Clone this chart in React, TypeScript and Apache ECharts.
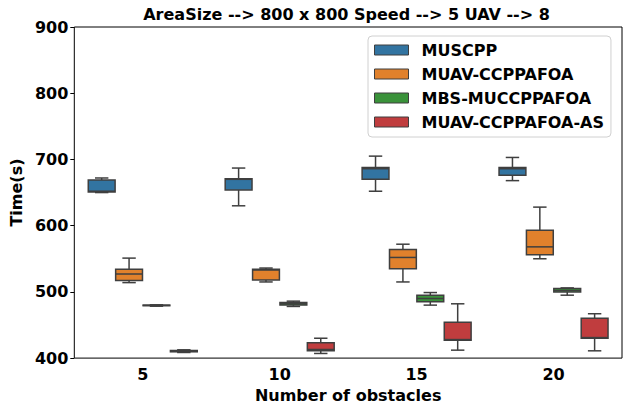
import React, { useEffect, useRef } from "react";
import * as echarts from "echarts";

const categories = ["5", "10", "15", "20"];
const seriesNames = ["MUSCPP", "MUAV-CCPPAFOA", "MBS-MUCCPPAFOA", "MUAV-CCPPAFOA-AS"];
const seriesColors = ["#3274a1", "#e1812c", "#3a923a", "#c03d3e"];
// [min, q1, median, q3, max] per category
const muscpp = [
  [650, 651, 652, 669, 672],
  [630, 654, 670, 671, 687],
  [652, 670, 686, 688, 705],
  [668, 676, 686, 688, 703],
];
const muavCcppafoa = [
  [514, 517, 527, 534, 551],
  [515, 518, 533, 534, 536],
  [515, 535, 552, 564, 572],
  [550, 556, 568, 593, 628],
];
const mbsMuccppafoa = [
  [478.4, 479.2, 479.6, 480, 480.4],
  [478, 480, 482, 484, 486],
  [480, 485, 490, 495, 499],
  [495, 500, 502, 505, 506],
];
const muavCcppafoaAs = [
  [408.5, 409.5, 410.5, 411.5, 412.5],
  [407, 411, 413, 423, 430],
  [412, 427, 428, 454, 482],
  [411, 430, 431, 460, 467],
];
const yTicks = { min: 400, max: 900, interval: 100 };

const allSeries = [muscpp, muavCcppafoa, mbsMuccppafoa, muavCcppafoaAs];
const FONT = "DejaVu Sans";
const EDGE = "#3f3f3f";

export default function App() {
  const ref = useRef<HTMLDivElement>(null);
  useEffect(() => {
    if (!ref.current) return;
    const chart = echarts.init(ref.current, null, { renderer: "svg" });
    const nSeries = allSeries.length;
    const series = allSeries.map((vals, s) => ({
      name: seriesNames[s],
      type: "custom",
      itemStyle: { color: seriesColors[s] },
      encode: { x: 0, y: [1, 2, 3, 4, 5] },
      data: vals.map((v, i) => [i, ...v]),
      renderItem: (params: any, api: any) => {
        const idx = api.value(0);
        const mn = api.value(1), q1 = api.value(2), md = api.value(3), q3 = api.value(4), mx = api.value(5);
        const band = api.size([1, 0])[0];
        const base = api.coord([idx, mn]);
        const slot = (0.8 / nSeries) * band;
        const cx = base[0] + (-0.4 + slot / band * (s + 0.5)) * band;
        const w = slot * 0.98;
        const y = (v: number) => api.coord([idx, v])[1];
        const ls = { stroke: EDGE, lineWidth: 1.5 };
        return {
          type: "group",
          children: [
            { type: "line", shape: { x1: cx, y1: y(mn), x2: cx, y2: y(q1) }, style: ls },
            { type: "line", shape: { x1: cx, y1: y(q3), x2: cx, y2: y(mx) }, style: ls },
            { type: "line", shape: { x1: cx - w / 4, y1: y(mn), x2: cx + w / 4, y2: y(mn) }, style: ls },
            { type: "line", shape: { x1: cx - w / 4, y1: y(mx), x2: cx + w / 4, y2: y(mx) }, style: ls },
            {
              type: "rect",
              shape: { x: cx - w / 2, y: y(q3), width: w, height: Math.max(y(q1) - y(q3), 0.5) },
              style: { fill: seriesColors[s], stroke: EDGE, lineWidth: 1.5 },
            },
            { type: "line", shape: { x1: cx - w / 2, y1: y(md), x2: cx + w / 2, y2: y(md) }, style: ls },
          ],
        };
      },
    }));

    chart.setOption({
      animation: false,
      textStyle: { fontFamily: FONT },
      title: {
        text: "AreaSize --> 800 x 800 Speed --> 5 UAV --> 8",
        left: 346.5,
        textAlign: "center",
        top: 6,
        padding: 0,
        textStyle: { fontFamily: FONT, fontWeight: "bold", fontSize: 16, color: "#000" },
      },
      legend: {
        orient: "vertical",
        left: 368,
        top: 36,
        padding: [6, 7, 7, 6],
        itemWidth: 34,
        itemHeight: 10,
        itemGap: 8,
        backgroundColor: "rgba(255,255,255,0.8)",
        borderColor: "#d0d0d0",
        borderWidth: 1,
        borderRadius: 4,
        textStyle: {
          fontFamily: FONT,
          fontWeight: "bold",
          fontSize: 16,
          color: "#000",
          lineHeight: 16,
          padding: [0, 0, 0, 8],
        },
        data: seriesNames.map((n, i) => ({
          name: n,
          icon: "rect",
          itemStyle: { color: seriesColors[i], borderColor: EDGE, borderWidth: 1 },
        })),
      },
      grid: {
        left: 71,
        right: 6,
        top: 27,
        bottom: 43,
        show: true,
        borderColor: "#000",
        borderWidth: 1,
        backgroundColor: "#fff",
      },
      xAxis: {
        type: "category",
        data: categories,
        name: "Number of obstacles",
        nameLocation: "middle",
        nameGap: 23,
        nameTextStyle: { fontFamily: FONT, fontWeight: "bold", fontSize: 16, color: "#000" },
        axisLine: { show: false },
        axisTick: { alignWithLabel: true, length: 4, lineStyle: { color: "#000" } },
        axisLabel: { fontFamily: FONT, fontWeight: "bold", fontSize: 16, color: "#000", margin: 8 },
        splitLine: { show: false },
      },
      yAxis: {
        type: "value",
        min: yTicks.min,
        max: yTicks.max,
        interval: yTicks.interval,
        name: "Time(s)",
        nameLocation: "middle",
        nameGap: 42,
        nameTextStyle: { fontFamily: FONT, fontWeight: "bold", fontSize: 16, color: "#000" },
        axisLine: { show: false },
        axisTick: { show: true, length: 4, lineStyle: { color: "#000" } },
        axisLabel: { fontFamily: FONT, fontWeight: "bold", fontSize: 16, color: "#000", margin: 6 },
        splitLine: { show: false },
      },
      series,
    });
    return () => chart.dispose();
  }, []);
  return (
    <div
      ref={ref}
      style={{ position: "fixed", left: 0, top: 0, width: 628, height: 408, background: "#fff" }}
    />
  );
}
